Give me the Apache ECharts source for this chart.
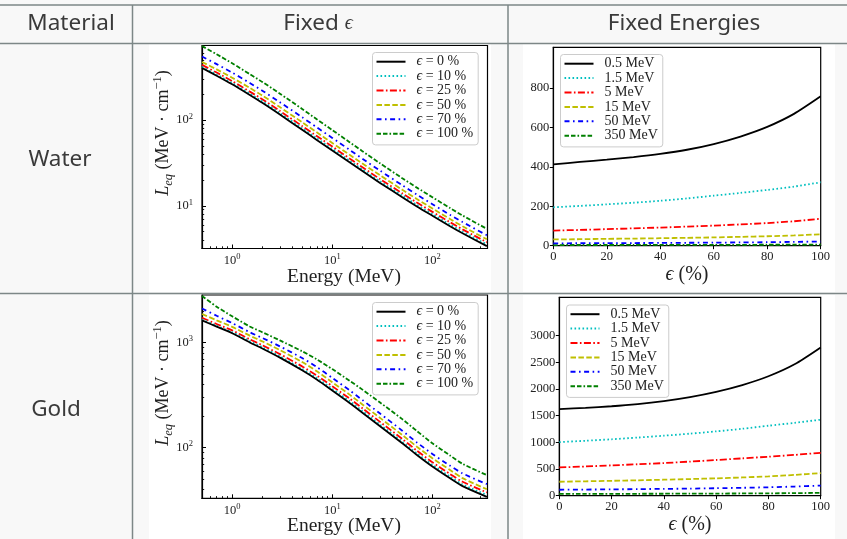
<!DOCTYPE html>
<html>
<head>
<meta charset="utf-8">
<script src="https://cdn.jsdelivr.net/npm/echarts@6/dist/echarts.min.js"></script>
<style>
html,body{margin:0;padding:0;background:#f8f8f8;}
#c{width:847px;height:539px;}
</style>
</head>
<body>
<div id="c"></div>
<script>
// ---- Equivalent length L_eq versus energy (fixed epsilon) ----
const epsilonLabels = ['ϵ = 0 %', 'ϵ = 10 %', 'ϵ = 25 %', 'ϵ = 50 %', 'ϵ = 70 %', 'ϵ = 100 %'];

const energies = [0.5, 0.7, 1, 1.5, 2, 3, 5, 7, 10, 15, 20, 30, 50, 70, 100, 150, 200, 350];

const waterEps0   = [405, 329, 261, 196, 159, 116, 77, 58.7, 44.2, 31.9, 25.4, 18.5, 12.6, 9.83, 7.66, 5.79, 4.79, 3.39];
const waterEps10  = [417.2, 339.5, 270.1, 203.3, 165.4, 120.9, 80.5, 61.4, 46.2, 33.4, 26.6, 19.35, 13.2, 10.28, 8.01, 6.06, 5.01, 3.55];
const waterEps25  = [439.4, 358, 284.5, 214.6, 174.9, 127.6, 85.1, 65.2, 49.1, 35.4, 28.2, 20.5, 14.0, 10.91, 8.5, 6.43, 5.32, 3.76];
const waterEps50  = [475.9, 389.9, 311.9, 237.2, 193.2, 141.5, 94.3, 71.9, 54.1, 39.1, 31.1, 22.7, 15.4, 12.0, 9.31, 7.01, 5.77, 4.07];
const waterEps70  = [550.8, 449.1, 357.6, 270.5, 220.2, 161.2, 107.8, 82.2, 61.9, 44.7, 35.4, 25.7, 17.4, 13.5, 10.46, 7.85, 6.47, 4.54];
const waterEps100 = [729, 585.6, 459.4, 343, 278.3, 203, 134.8, 102.1, 76.5, 54.9, 43.4, 31.3, 21.0, 16.3, 12.6, 9.41, 7.71, 5.39];

const goldEps0   = [1630, 1420, 1230, 1005, 880, 720, 545, 445, 350, 265, 215, 160, 110, 85, 66, 51, 43, 34];
const goldEps10  = [1663, 1448, 1255, 1035, 906, 742, 561, 463, 364, 276, 224, 166, 114, 88.4, 68.6, 53, 44.7, 35.4];
const goldEps25  = [1728, 1505, 1310, 1075, 946, 778, 594, 487, 385, 292, 237, 176, 121, 93.5, 72.6, 56.1, 47.3, 37.4];
const goldEps50  = [1875, 1633, 1415, 1166, 1030, 850, 654, 534, 420, 318, 258, 192, 132, 102, 79.2, 61.2, 51.2, 40.1];
const goldEps70  = [2119, 1803, 1538, 1256, 1109, 922, 714, 587, 462, 350, 284, 211, 145, 112, 87.1, 67.3, 56.8, 44.9];
const goldEps100 = [2787, 2201, 1784, 1427, 1258, 1051, 828, 694, 560, 432, 357, 269, 187, 144, 110, 84.2, 70.1, 54.7];

// ---- L_eq versus epsilon (fixed energies) ----
const energyLabels = ['0.5 MeV', '1.5 MeV', '5 MeV', '15 MeV', '50 MeV', '350 MeV'];
const epsilonPercent = [0, 10, 20, 30, 40, 50, 60, 70, 80, 90, 100];

const waterE0p5 = [413, 425, 437, 450, 466, 487, 516, 554, 603, 669, 758];
const waterE1p5 = [195, 202, 210, 218, 228, 240, 254, 268, 283, 300, 322];
const waterE5   = [77, 80, 84, 88, 92, 97, 102, 108, 115, 124, 137];
const waterE15  = [32, 33, 35, 36, 38, 40, 42, 45, 48, 52, 58];
const waterE50  = [12, 12.5, 13, 13.5, 14.1, 14.8, 15.6, 16.6, 17.8, 19.3, 21.2];
const waterE350 = [3.4, 3.5, 3.6, 3.75, 3.9, 4.05, 4.25, 4.5, 4.8, 5.1, 5.5];

const goldE0p5 = [1625, 1648, 1677, 1718, 1775, 1850, 1948, 2075, 2240, 2465, 2780];
const goldE1p5 = [1005, 1030, 1058, 1090, 1125, 1163, 1206, 1255, 1312, 1366, 1425];
const goldE5   = [530, 548, 568, 590, 612, 640, 669, 700, 731, 765, 805];
const goldE15  = [262, 270, 279, 289, 300, 312, 326, 342, 362, 390, 425];
const goldE50  = [112, 115, 119, 123, 128, 133, 140, 148, 158, 172, 190];
const goldE350 = [33, 34, 35, 36, 37, 38.5, 40, 42, 44.5, 48, 53];

// ---- tick values ----
const energyMajorTicks = [1, 10, 100];
const energyMinorTicks = [0.6, 0.7, 0.8, 0.9, 2, 3, 4, 5, 6, 7, 8, 9, 20, 30, 40, 50, 60, 70, 80, 90, 200, 300];
const waterLogMajor = [10, 100];
const waterLogMinor = [4, 5, 6, 7, 8, 9, 20, 30, 40, 50, 60, 70, 80, 90, 200, 300, 400, 500, 600, 700];
const goldLogMajor = [100, 1000];
const goldLogMinor = [40, 50, 60, 70, 80, 90, 200, 300, 400, 500, 600, 700, 800, 900, 2000];
const epsilonTicks = [0, 20, 40, 60, 80, 100];
const waterLinTicks = [0, 200, 400, 600, 800];
const goldLinTicks = [0, 500, 1000, 1500, 2000, 2500, 3000];

// ---- styling ----
const SERIF = 'Liberation Serif';
const SANS = 'Noto Sans';
const lineStyles = [
  { color: '#000000', type: 'solid' },
  { color: '#00bfbf', type: [1.6, 2.4] },
  { color: '#ff0000', type: [7, 2.4, 1.6, 2.4] },
  { color: '#bfbf00', type: [5.5, 2.4] },
  { color: '#0000ff', type: [5, 3.5, 1.6, 3.5] },
  { color: '#008000', type: [4.5, 2, 4.5, 2, 1.6, 2] }
];
const LW = 1.8;

const waterEpsSeries = [waterEps0, waterEps10, waterEps25, waterEps50, waterEps70, waterEps100];
const goldEpsSeries = [goldEps0, goldEps10, goldEps25, goldEps50, goldEps70, goldEps100];
const waterEnergySeries = [waterE0p5, waterE1p5, waterE5, waterE15, waterE50, waterE350];
const goldEnergySeries = [goldE0p5, goldE1p5, goldE5, goldE15, goldE50, goldE350];

// plot areas
const grids = [
  { left: 202, top: 45.5, width: 285.5, height: 203 },   // water, fixed eps
  { left: 202, top: 295, width: 285.5, height: 203.3 },  // gold, fixed eps
  { left: 553.3, top: 47.3, width: 267.4, height: 198.4 }, // water, fixed energies
  { left: 559.3, top: 297.3, width: 261.4, height: 198.4 } // gold, fixed energies
];

const powLabel = v => {
  const e = Math.round(Math.log10(v));
  return '{b|10}{s|' + e + '}';
};
const powRich = {
  b: { fontFamily: SERIF, fontSize: 12.5, lineHeight: 16, color: '#222', verticalAlign: 'middle' },
  s: { fontFamily: SERIF, fontSize: 8.5, lineHeight: 16, color: '#222', verticalAlign: 'top' }
};

function logAxisPair(dim, gridIndex, min, max, majors, minors) {
  const pos = dim === 'x' ? 'bottom' : 'left';
  const main = {
    type: 'log', logBase: 10, gridIndex, min, max, position: pos,
    axisLine: { show: true, onZero: false, lineStyle: { color: '#000', width: 1.2 } },
    axisTick: { show: true, inside: true, length: 4, customValues: majors, lineStyle: { color: '#000', width: 1 } },
    axisLabel: { show: true, customValues: majors, formatter: powLabel, rich: powRich,
                 margin: dim === 'x' ? 4 : 9, showMinLabel: true, showMaxLabel: true },
    splitLine: { show: false }
  };
  const minor = {
    type: 'log', logBase: 10, gridIndex, min, max, position: pos,
    axisLine: { show: false },
    axisTick: { show: true, inside: true, length: 2.2, customValues: minors, lineStyle: { color: '#000', width: 0.9 } },
    axisLabel: { show: false },
    splitLine: { show: false }
  };
  return [main, minor];
}

function linAxis(dim, gridIndex, min, max, ticks) {
  return {
    type: 'value', gridIndex, min, max, position: dim === 'x' ? 'bottom' : 'left',
    axisLine: { show: true, onZero: false, lineStyle: { color: '#000', width: 1.2 } },
    axisTick: { show: true, inside: false, length: 3.5, customValues: ticks, lineStyle: { color: '#000', width: 1 } },
    axisLabel: { show: true, customValues: ticks, fontFamily: SERIF, fontSize: 12.5, color: '#222',
                 margin: dim === 'x' ? 5 : 4, formatter: v => String(v) },
    splitLine: { show: false }
  };
}

const xAxes = [
  ...logAxisPair('x', 0, 0.5, 355, energyMajorTicks, energyMinorTicks),
  ...logAxisPair('x', 1, 0.5, 355, energyMajorTicks, energyMinorTicks),
  linAxis('x', 2, 0, 100, epsilonTicks),
  linAxis('x', 3, 0, 100, epsilonTicks)
];
const yAxes = [
  ...logAxisPair('y', 0, 3.18, 740, waterLogMajor, waterLogMinor),
  ...logAxisPair('y', 1, 32.9, 2845, goldLogMajor, goldLogMinor),
  linAxis('y', 2, 0, 1007, waterLinTicks),
  linAxis('y', 3, 0, 3720, goldLinTicks)
];

const series = [];
function addSeries(names, xs, ys, axisIndex) {
  ys.forEach((vals, i) => {
    series.push({
      type: 'line', name: names[i], xAxisIndex: axisIndex, yAxisIndex: axisIndex,
      data: xs.map((x, k) => [x, vals[k]]),
      symbol: 'none', smooth: 0.25, clip: true, animation: false,
      lineStyle: { color: lineStyles[i].color, type: lineStyles[i].type, width: LW, cap: 'butt' },
      itemStyle: { color: lineStyles[i].color },
      z: 2 + (ys.length - i) * 0.01
    });
  });
}
addSeries(epsilonLabels, energies, waterEpsSeries, 0);
addSeries(epsilonLabels, energies, goldEpsSeries, 2);
addSeries(energyLabels, epsilonPercent, waterEnergySeries, 4);
addSeries(energyLabels, epsilonPercent, goldEnergySeries, 5);

function legend(names, left, top, epsFormat) {
  return {
    data: names, orient: 'vertical', left, top,
    padding: [2, 5, 4, 3], itemWidth: 29, itemHeight: 10, itemGap: 0,
    backgroundColor: 'rgba(255,255,255,0.85)', borderColor: '#cccccc', borderWidth: 1, borderRadius: 3,
    selectedMode: false,
    itemStyle: { opacity: 0, borderWidth: 0 },
    textStyle: { fontFamily: SERIF, fontSize: 14, color: '#222', lineHeight: 14.4, padding: [0, 0, 0, 6],
                 rich: { i: { fontFamily: SERIF, fontStyle: 'italic', fontSize: 14, lineHeight: 14.4, color: '#222' } } },
    formatter: epsFormat ? (n => n.replace('ϵ', '{i|ϵ}')) : (n => n)
  };
}

const lineColor = '#7d8787';
const ylabelText = '{i|L}{sub|eq} (MeV · cm{sup|−1})';
const labelRich = {
  i: { fontFamily: SERIF, fontStyle: 'italic', fontSize: 18, lineHeight: 24, fill: '#222' },
  sub: { fontFamily: SERIF, fontStyle: 'italic', fontSize: 12.5, lineHeight: 24, verticalAlign: 'bottom', fill: '#222' },
  sup: { fontFamily: SERIF, fontSize: 12.5, lineHeight: 24, verticalAlign: 'top', fill: '#222' }
};

function txt(x, y, text, opts) {
  return Object.assign({ type: 'text', x, y, z: 20,
    style: Object.assign({ text, align: 'center', verticalAlign: 'middle', fill: '#222' }, opts.style || {}) },
    opts.rotation ? { rotation: opts.rotation } : {});
}

const headStyle = { fontFamily: SANS, fontSize: 22.5, fill: '#3a3a3a' };
const graphics = [
  { type: 'rect', z: -30, shape: { x: 0, y: 0, width: 847, height: 539 }, style: { fill: '#f8f8f8' } },
  { type: 'rect', z: -20, shape: { x: 149, y: 44, width: 342, height: 248 }, style: { fill: '#ffffff' } },
  { type: 'rect', z: -20, shape: { x: 523, y: 44, width: 312, height: 248 }, style: { fill: '#ffffff' } },
  { type: 'rect', z: -20, shape: { x: 149, y: 295, width: 342, height: 244 }, style: { fill: '#ffffff' } },
  { type: 'rect', z: -20, shape: { x: 523, y: 295, width: 312, height: 244 }, style: { fill: '#ffffff' } },
  // table rules
  { type: 'line', z: 30, shape: { x1: 0, y1: 5, x2: 847, y2: 5 }, style: { stroke: lineColor, lineWidth: 1.5 } },
  { type: 'line', z: 30, shape: { x1: 0, y1: 43.5, x2: 847, y2: 43.5 }, style: { stroke: lineColor, lineWidth: 1.5 } },
  { type: 'line', z: 30, shape: { x1: 0, y1: 293.5, x2: 847, y2: 293.5 }, style: { stroke: lineColor, lineWidth: 1.5 } },
  { type: 'line', z: 30, shape: { x1: 132.5, y1: 5, x2: 132.5, y2: 539 }, style: { stroke: lineColor, lineWidth: 1.5 } },
  { type: 'line', z: 30, shape: { x1: 508, y1: 5, x2: 508, y2: 539 }, style: { stroke: lineColor, lineWidth: 1.5 } },
  // header
  txt(71, 24, 'Material', { style: headStyle }),
  txt(318, 24, 'Fixed {e|ϵ}', { style: Object.assign({}, headStyle,
        { rich: { e: { fontFamily: SERIF, fontStyle: 'italic', fontSize: 20, fill: '#3a3a3a' } } }) }),
  txt(684, 24, 'Fixed Energies', { style: headStyle }),
  txt(60, 160, 'Water', { style: headStyle }),
  txt(56, 410, 'Gold', { style: headStyle }),
  // axis titles
  txt(344, 277, 'Energy (MeV)', { style: { fontFamily: SERIF, fontSize: 19.5 } }),
  txt(344, 526, 'Energy (MeV)', { style: { fontFamily: SERIF, fontSize: 19.5 } }),
  txt(163, 133, ylabelText, { rotation: Math.PI / 2, style: { fontFamily: SERIF, fontSize: 18, rich: labelRich } }),
  txt(163, 383, ylabelText, { rotation: Math.PI / 2, style: { fontFamily: SERIF, fontSize: 18, rich: labelRich } }),
  txt(687, 275, '{i|ϵ} (%)', { style: { fontFamily: SERIF, fontSize: 20,
        rich: { i: { fontFamily: SERIF, fontStyle: 'italic', fontSize: 20, fill: '#222' } } } }),
  txt(690, 525, '{i|ϵ} (%)', { style: { fontFamily: SERIF, fontSize: 20,
        rich: { i: { fontFamily: SERIF, fontStyle: 'italic', fontSize: 20, fill: '#222' } } } })
];

const chart = echarts.init(document.getElementById('c'), null, { renderer: 'canvas', width: 847, height: 539 });
chart.setOption({
  animation: false,
  grid: grids.map(g => Object.assign({ show: true, borderColor: '#000', borderWidth: 1.2, backgroundColor: 'transparent', containLabel: false }, g)),
  xAxis: xAxes,
  yAxis: yAxes,
  legend: [
    legend(epsilonLabels, 372.5, 52.5, true),
    legend(epsilonLabels, 372.5, 302.5, true),
    legend(energyLabels, 560.5, 54.5, false),
    legend(energyLabels, 566.5, 305, false)
  ],
  graphic: { elements: graphics },
  series
});
</script>
</body>
</html>
